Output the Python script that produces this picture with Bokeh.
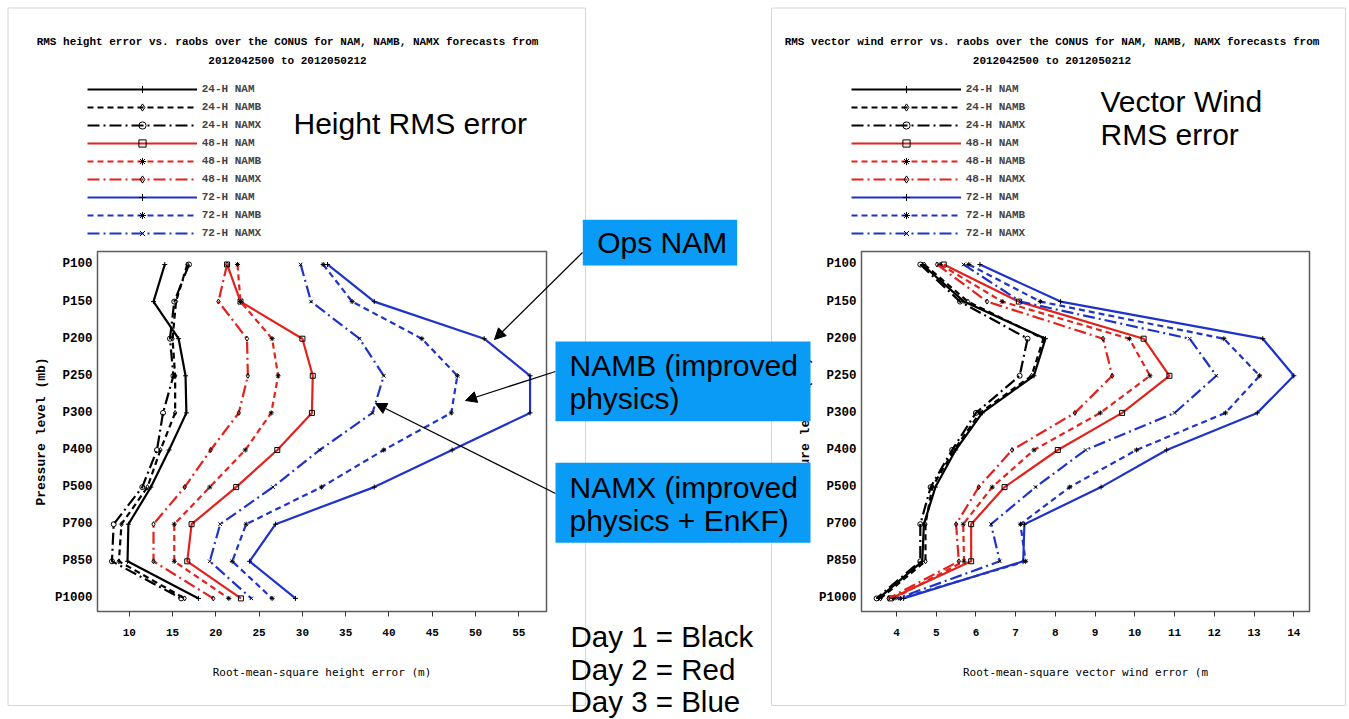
from bokeh.plotting import figure
from bokeh.models import (Range1d, FixedTicker, Label, BoxAnnotation, Arrow, NormalHead,
                          Legend, LegendItem, GridBox)
from bokeh.embed import file_html
from bokeh.resources import INLINE

# ---------------- data ----------------
LEVELS = ["P100", "P150", "P200", "P250", "P300", "P400", "P500", "P700", "P850", "P1000"]
LEVEL_POS = list(range(len(LEVELS)))

SERIES_NAMES = ["24-H NAM", "24-H NAMB", "24-H NAMX",
                "48-H NAM", "48-H NAMB", "48-H NAMX",
                "72-H NAM", "72-H NAMB", "72-H NAMX"]

HGT_TICKS = [10, 15, 20, 25, 30, 35, 40, 45, 50, 55]
WIND_TICKS = [4, 5, 6, 7, 8, 9, 10, 11, 12, 13, 14]

# RMS height error (m), P100 ... P1000
hgt_24h_nam = [14.1, 12.8, 15.7, 16.5, 16.6, 14.6, 12.5, 9.9, 9.8, 18.0]
hgt_24h_namb = [16.7, 15.4, 15.0, 15.3, 15.3, 13.6, 12.1, 9.1, 8.8, 16.4]
hgt_24h_namx = [16.9, 15.2, 14.7, 15.1, 13.9, 13.2, 11.5, 8.2, 8.0, 16.0]
hgt_48h_nam = [21.3, 22.85, 30.0, 31.2, 31.1, 27.1, 22.35, 17.2, 16.7, 22.9]
hgt_48h_namb = [22.5, 22.85, 26.5, 27.2, 26.4, 23.4, 19.3, 15.2, 15.2, 21.5]
hgt_48h_namx = [21.3, 20.3, 23.6, 23.7, 22.65, 19.4, 16.4, 12.8, 12.8, 19.7]
hgt_72h_nam = [32.9, 38.3, 51.0, 56.3, 56.3, 47.3, 38.3, 26.9, 23.9, 29.2]
hgt_72h_namb = [32.4, 35.75, 43.8, 47.9, 47.2, 39.4, 32.2, 23.5, 21.9, 26.5]
hgt_72h_namx = [29.8, 31.0, 36.6, 39.4, 38.1, 32.0, 26.6, 20.5, 19.3, 24.1]

# RMS vector wind error (m/s), P100 ... P1000
wnd_24h_nam = [4.65, 5.7, 7.75, 7.46, 6.16, 5.49, 4.98, 4.69, 4.65, 3.55]
wnd_24h_namb = [4.7, 5.8, 7.7, 7.4, 6.1, 5.45, 4.9, 4.73, 4.73, 3.6]
wnd_24h_namx = [4.6, 5.6, 7.3, 7.1, 6.0, 5.4, 4.86, 4.6, 4.6, 3.5]
wnd_48h_nam = [5.19, 7.08, 10.22, 10.87, 9.68, 8.06, 6.72, 5.88, 5.88, 3.85]
wnd_48h_namb = [5.1, 6.66, 9.86, 10.38, 9.13, 7.46, 6.41, 5.68, 5.7, 3.93]
wnd_48h_namx = [5.02, 6.28, 9.2, 9.43, 8.49, 6.91, 6.07, 5.5, 5.57, 3.8]
wnd_72h_nam = [6.1, 8.13, 13.22, 14.0, 13.08, 10.8, 9.15, 7.22, 7.19, 4.18]
wnd_72h_namb = [5.82, 7.62, 12.24, 13.14, 12.28, 10.04, 8.36, 7.12, 7.25, 4.1]
wnd_72h_namx = [5.69, 7.12, 11.38, 12.05, 11.0, 8.76, 7.5, 6.38, 6.6, 4.02]

HGT_SERIES = [hgt_24h_nam, hgt_24h_namb, hgt_24h_namx,
              hgt_48h_nam, hgt_48h_namb, hgt_48h_namx,
              hgt_72h_nam, hgt_72h_namb, hgt_72h_namx]
WND_SERIES = [wnd_24h_nam, wnd_24h_namb, wnd_24h_namx,
              wnd_48h_nam, wnd_48h_namb, wnd_48h_namx,
              wnd_72h_nam, wnd_72h_namb, wnd_72h_namx]

HGT_TITLE = ["RMS height error vs. raobs over the CONUS for NAM, NAMB, NAMX forecasts from",
             "2012042500 to 2012050212"]
WND_TITLE = ["RMS vector wind error vs. raobs over the CONUS for NAM, NAMB, NAMX forecasts from",
             "2012042500 to 2012050212"]
HGT_XLABEL = "Root-mean-square height error (m)"
WND_XLABEL = "Root-mean-square vector wind error (m"
YLABEL = "Pressure level (mb)"

HGT_NOTE = ["Height RMS error"]
WND_NOTE = ["Vector Wind", "RMS error"]
CALL_OPS = ["Ops NAM"]
CALL_NAMB = ["NAMB (improved", "physics)"]
CALL_NAMX = ["NAMX (improved", "physics + EnKF)"]
DAY_NOTES = ["Day 1 = Black", "Day 2 = Red", "Day 3 = Blue"]

# ---------------- styles ----------------
RED = "#E2231D"
BLUE = "#1F33C8"
BLACK = "#000000"
CALLOUT = "#0A9BF7"
PANEL_LINE = "#D6D6D6"
DASH = "6 4"
DASHDOT = "12 4 2 4"
STYLES = [(BLACK, "solid", "cross"), (BLACK, DASH, "diamond"), (BLACK, DASHDOT, "circle"),
          (RED, "solid", "square"), (RED, DASH, "asterisk"), (RED, DASHDOT, "diamond"),
          (BLUE, "solid", "cross"), (BLUE, DASH, "asterisk"), (BLUE, DASHDOT, "x")]

MONO = "Liberation Mono"
SANS = "Liberation Sans"

# page geometry (pixels)
W, H = 1349, 719
SPLIT_X = 556
FRAME_TOP, FRAME_BOTTOM = 251, 611
L_FRAME = (97, 546)
R_FRAME = (861, 1309)


def make_panel(frame, canvas_x0, canvas_x1, xr, ticks, series, xlabel):
    fl, fr = frame
    p = figure(x_range=xr, y_range=Range1d(9.353, -0.35),
               frame_width=fr - fl, frame_height=FRAME_BOTTOM - FRAME_TOP,
               min_border_left=fl - canvas_x0, min_border_right=canvas_x1 - fr,
               min_border_top=FRAME_TOP, min_border_bottom=H - FRAME_BOTTOM,
               toolbar_location=None, output_backend="svg",
               background_fill_color="white", border_fill_color="white",
               outline_line_color="#5c5c5c", outline_line_width=1.5)
    p.xgrid.visible = False
    p.ygrid.visible = False

    p.xaxis.ticker = FixedTicker(ticks=ticks)
    p.xaxis.axis_line_color = None
    p.xaxis.major_tick_in = 0
    p.xaxis.major_tick_out = 5
    p.xaxis.minor_tick_line_color = None
    p.xaxis.major_tick_line_color = "#333333"
    p.xaxis.major_label_standoff = 12
    p.xaxis.major_label_text_font = MONO
    p.xaxis.major_label_text_font_style = "bold"
    p.xaxis.major_label_text_font_size = "11px"
    p.xaxis.major_label_text_color = "black"
    p.xaxis.axis_label = xlabel
    p.xaxis.axis_label_text_font = "DejaVu Sans Mono"
    p.xaxis.axis_label_text_font_style = "normal"
    p.xaxis.axis_label_text_font_size = "11px"
    p.xaxis.axis_label_text_color = "black"
    p.xaxis.axis_label_standoff = 27

    p.yaxis.ticker = FixedTicker(ticks=LEVEL_POS)
    p.yaxis.major_label_overrides = {i: lab for i, lab in zip(LEVEL_POS, LEVELS)}
    p.yaxis.axis_line_color = None
    p.yaxis.major_tick_in = 0
    p.yaxis.major_tick_out = 0
    p.yaxis.minor_tick_line_color = None
    p.yaxis.major_label_standoff = 5
    p.yaxis.major_label_text_font = MONO
    p.yaxis.major_label_text_font_style = "bold"
    p.yaxis.major_label_text_font_size = "12.5px"
    p.yaxis.major_label_text_color = "black"
    p.yaxis.axis_label = YLABEL
    p.yaxis.axis_label_text_font = MONO
    p.yaxis.axis_label_text_font_style = "bold"
    p.yaxis.axis_label_text_font_size = "13px"
    p.yaxis.axis_label_text_color = "black"
    p.yaxis.axis_label_standoff = 3

    for vals, (color, dash, marker) in zip(series, STYLES):
        p.line(vals, LEVEL_POS, line_color=color, line_dash=dash, line_width=2.2)
        p.scatter(vals, LEVEL_POS, marker=marker, size=5, line_color="black",
                  fill_color=None, line_width=1)
    return p


left = make_panel(L_FRAME, 0, SPLIT_X, Range1d(6.33, 58.2), HGT_TICKS, HGT_SERIES, HGT_XLABEL)
right = make_panel(R_FRAME, SPLIT_X, W, Range1d(3.12, 14.395), WIND_TICKS, WND_SERIES, WND_XLABEL)

# ---------------- overlay (page-pixel coordinates) for slide decorations ----------------
ov = figure(width=W, height=H, x_range=Range1d(0, W), y_range=Range1d(H, 0),
            min_border=0, min_border_left=0, min_border_right=0, min_border_top=0,
            min_border_bottom=0, toolbar_location=None, output_backend="svg",
            x_axis_location=None, y_axis_location=None,
            background_fill_color=None, border_fill_color=None, outline_line_color=None)
ov.xgrid.visible = False
ov.ygrid.visible = False


def add_text(px, py, text, font=SANS, size="30px", style="normal", align="left"):
    ov.add_layout(Label(x=px, y=py, text=text, text_font=font, text_font_size=size,
                        text_font_style=style, text_align=align, text_baseline="middle",
                        text_color="black"))


def add_box(x0, y0, x1, y1, fill=None, line=None):
    ov.add_layout(BoxAnnotation(left=x0, right=x1, top=y0, bottom=y1,
                                fill_color=fill if fill else "white",
                                fill_alpha=1 if fill else 0,
                                line_color=line if line else "white",
                                line_alpha=1 if line else 0, line_width=1))


def add_arrow(x0, y0, x1, y1):
    ov.add_layout(Arrow(x_start=x0, y_start=y0, x_end=x1, y_end=y1,
                        line_color="black", line_width=1.3, start=None,
                        end=NormalHead(size=11, fill_color="black", line_color="black")))


# panel borders
add_box(7.5, 7.5, 585, 705, line=PANEL_LINE)
add_box(771, 7.5, 1345, 705, line=PANEL_LINE)

# titles and notes
add_text(287, 41, HGT_TITLE[0], font=MONO, size="11px", style="bold", align="center")
add_text(287, 60, HGT_TITLE[1], font=MONO, size="11px", style="bold", align="center")
add_text(1051.5, 41, WND_TITLE[0], font=MONO, size="11px", style="bold", align="center")
add_text(1051.5, 60, WND_TITLE[1], font=MONO, size="11px", style="bold", align="center")
add_text(293, 123, HGT_NOTE[0])
add_text(1100, 101, WND_NOTE[0])
add_text(1100, 134, WND_NOTE[1])

# legends (glyph samples taken from hidden renderers with the same styles)
items = []
for name, vals, (color, dash, marker) in zip(SERIES_NAMES, HGT_SERIES, STYLES):
    ln = ov.line(vals, LEVEL_POS, line_color=color, line_dash=dash, line_width=2.2, visible=False)
    sc = ov.scatter(vals, LEVEL_POS, marker=marker, size=5, line_color="black",
                    fill_color=None, line_width=1, visible=False)
    items.append(LegendItem(label=name, renderers=[ln, sc]))

for lx in (86.7, 850.7):
    ov.add_layout(Legend(items=items, location=(lx, H - 242), padding=0, margin=0, spacing=0,
                         glyph_width=110, glyph_height=18, label_height=18, label_standoff=5,
                         label_text_font=MONO, label_text_font_style="bold",
                         label_text_font_size="11px", background_fill_alpha=0,
                         border_line_color=None, inactive_fill_alpha=0))

# arrows and callouts
add_arrow(582, 252, 494, 339)
add_arrow(555, 371, 465, 400)
add_arrow(555, 493, 375, 403)
add_box(582.3, 219.3, 736.7, 265, fill=CALLOUT)
add_box(555, 341, 810, 420.7, fill=CALLOUT)
add_box(555, 462.3, 810, 542.3, fill=CALLOUT)
add_text(596.7, 242, CALL_OPS[0])
add_text(569, 365, CALL_NAMB[0])
add_text(569, 398, CALL_NAMB[1])
add_text(569, 487, CALL_NAMX[0])
add_text(569, 520, CALL_NAMX[1])
for i, t in enumerate(DAY_NOTES):
    add_text(570, 636 + 32.5 * i, t, size="29.5px")

# the overlay spans empty edge tracks so that its frame is not aligned with the plot frames
layout = GridBox(children=[(left, 1, 1), (right, 1, 2), (ov, 0, 0, 3, 4)], spacing=0)
open("out.html", "w").write(file_html(layout, INLINE))
